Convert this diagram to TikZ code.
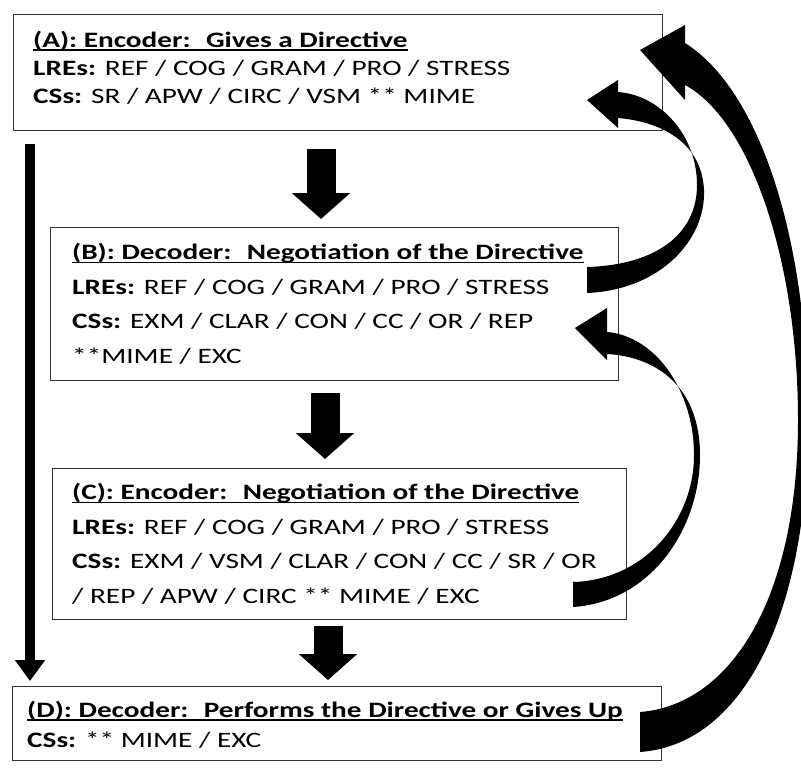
\documentclass[tikz,border=0pt]{standalone}
\usepackage{fontspec}
\setmainfont{Carlito}[FakeStretch=1.33]
\usetikzlibrary{arrows.meta,positioning}
\newcommand{\headtext}[1]{\setbox0\hbox{\textbf{#1}}\rlap{\rule[-3.5pt]{\wd0}{1.2pt}}\box0}

\begin{document}
\begin{tikzpicture}[
    x=1pt, y=-1pt,
    every node/.style={font=\fontsize{22}{28}\selectfont},
    box/.style={draw=black!80, line width=1.2pt, anchor=north west, inner sep=0pt},
    txt/.style={anchor=base west, align=left, inner sep=0pt},
    wide/.style={font=\fontsize{22}{34.4}\selectfont},
    fatflow/.style={line width=29pt, -{Triangle[width=57pt, length=26pt]}},
    longflow/.style={line width=10pt, -{Triangle[width=29pt, length=21pt]}},
    backflow/.style={fill=black}
]
\useasboundingbox (0,0) rectangle (801,769);

% boxes
\node[box, minimum width=649pt, minimum height=116pt] (encA) at (13,14) {};
\node[box, minimum width=568pt, minimum height=153pt] (decB) at (50,227) {};
\node[box, minimum width=574pt, minimum height=151pt] (encC) at (52,468) {};
\node[box, minimum width=649pt, minimum height=74pt] (decD) at (12,686) {};

% texts (placed at the baseline of their last line)
\node[txt] (txtA) at (33,103) {\headtext{(A):~Encoder:~ Gives a Directive}\\
  \textbf{LREs:} REF / COG / GRAM / PRO / STRESS\\
  \textbf{CSs:} SR / APW / CIRC / VSM ** MIME};
\node[txt, wide] (txtB) at (72,363) {\headtext{(B):~Decoder:~ Negotiation of the Directive}\\
  \textbf{LREs:} REF / COG / GRAM / PRO / STRESS\\
  \textbf{CSs:} EXM / CLAR / CON / CC / OR / REP\\
  **MIME / EXC};
\node[txt, wide] (txtC) at (72,603) {\headtext{(C):~Encoder:~ Negotiation of the Directive}\\
  \textbf{LREs:} REF / COG / GRAM / PRO / STRESS\\
  \textbf{CSs:} EXM / VSM / CLAR / CON / CC / SR / OR\\
  / REP / APW / CIRC ** MIME / EXC};
\node[txt, font=\fontsize{22}{30}\selectfont] (txtD) at (27,747) {\headtext{(D):~Decoder:~ Performs the Directive or Gives Up}\\
  \textbf{CSs:} ** MIME / EXC};

% straight arrows
\coordinate (colAB) at (321,0);
\coordinate (colBC) at (325,0);
\coordinate (colCD) at (328,0);
\coordinate (leftcol) at (30,0);
\draw[fatflow, shorten <=18pt, shorten >=8pt] (encA.south -| colAB) -- (decB.north -| colAB);
\draw[fatflow, shorten <=12pt, shorten >=9pt] (decB.south -| colBC) -- (encC.north -| colBC);
\draw[fatflow, shorten <=6pt, shorten >=6pt] (encC.south -| colCD) -- (decD.north -| colCD);
\draw[longflow, shorten <=13pt, shorten >=5pt] (encA.south -| leftcol) -- (decD.north -| leftcol);

% curved arrows back up
\fill[backflow] (587,293) .. controls (660,290) and (706,240) .. (704,190)
  .. controls (702,145) and (665,122) .. (618,118) -- (618,128) -- (587,100) -- (618,80) -- (618,92)
  .. controls (660,95) and (697,135) .. (697,185) .. controls (697,235) and (655,265) .. (587,267) -- cycle;
\fill[backflow] (573,607) .. controls (650,602) and (700,530) .. (700,455)
  .. controls (700,390) and (660,357) .. (607,354) -- (607,360) -- (575,328) -- (607,308) -- (607,332)
  .. controls (655,336) and (694,390) .. (694,455) .. controls (694,520) and (645,580) .. (573,582) -- cycle;
\fill[backflow] (640,752) .. controls (740,745) and (808,620) .. (808,420)
  .. controls (808,240) and (760,90) .. (685,43) -- (685,25) -- (640,50) -- (685,100) -- (685,85)
  .. controls (750,120) and (798,260) .. (798,420) .. controls (798,600) and (730,705) .. (640,712) -- cycle;
\end{tikzpicture}
\end{document}
